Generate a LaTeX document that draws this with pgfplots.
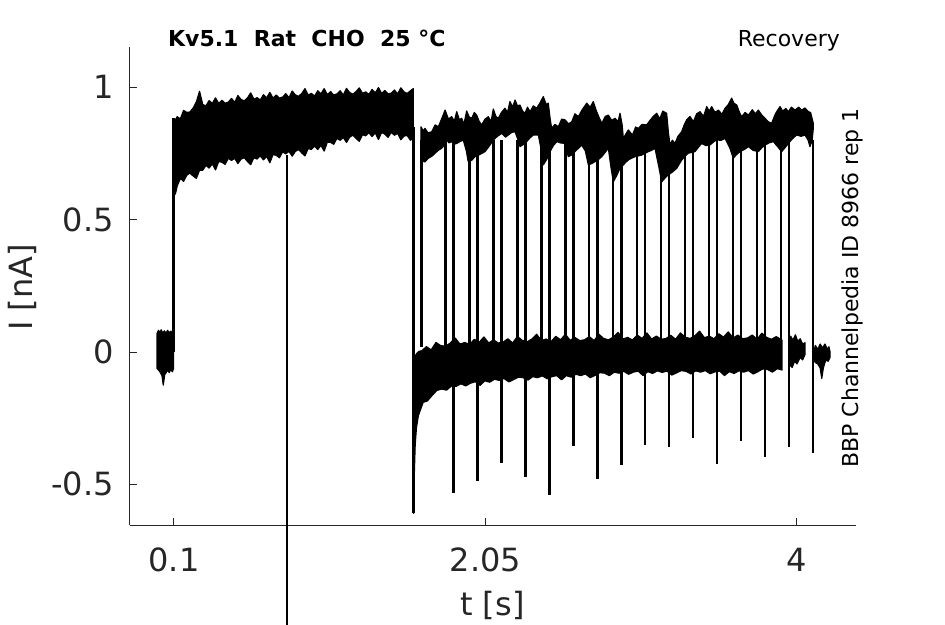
\documentclass[border=0pt]{standalone}
\usepackage{fontspec}
\setmainfont{DejaVu Sans}
\usepackage{pgfplots}
\pgfplotsset{compat=1.18}
\definecolor{axgray}{RGB}{38,38,38}
\begin{document}
\begin{tikzpicture}
\begin{axis}[
  name=ax, scale only axis, width=726pt, height=478pt,
  xmin=-0.1754, xmax=4.3694, ymin=-0.6536, ymax=1.1524,
  axis x line*=bottom, axis y line*=left,
  axis line style={axgray, line width=1pt},
  tick align=inside, major tick length=7.5pt,
  tick style={axgray, line width=1pt},
  xtick={0.1,2.05,4}, xticklabels={0.1,2.05,4},
  ytick={-0.5,0,0.5,1}, yticklabels={-0.5,0,0.5,1},
  ticklabel style={font=\fontsize{32}{38}\selectfont, text=axgray},
  xticklabel style={anchor=base, inner sep=0pt, yshift=-46.7pt},
  yticklabel style={anchor=east, inner sep=0pt, xshift=-16pt},
  clip=false,
]
% pre-pulse baseline
\addplot[black, fill=black, line width=1.2pt, line join=round] coordinates {
(-0.006,0.070) (0.003,0.082) (0.012,0.072) (0.020,0.084) (0.030,0.071) (0.040,0.080) (0.050,0.070) (0.060,0.082) (0.070,0.072) (0.080,0.079) (0.090,0.070) (0.097,0.076)
(0.097,-0.062) (0.090,-0.075) (0.080,-0.066) (0.070,-0.078) (0.060,-0.068) (0.050,-0.079) (0.042,-0.085) (0.033,-0.125) (0.025,-0.090) (0.015,-0.078) (0.006,-0.070) (-0.006,-0.062)
} -- cycle;
% step up at 0.1
\addplot[black, line width=3pt] coordinates {(0.1,0.0) (0.1,0.885)};
% P1 band
\addplot[black, fill=black, line width=1.2pt, line join=round] coordinates {
(0.100,0.869) (0.120,0.889) (0.140,0.881) (0.160,0.913) (0.180,0.905) (0.200,0.907) (0.220,0.922) (0.240,0.945) (0.260,0.985) (0.280,0.935)
(0.300,0.930) (0.320,0.950) (0.340,0.939) (0.360,0.960) (0.380,0.939) (0.400,0.951) (0.420,0.940) (0.440,0.944) (0.460,0.958) (0.480,0.943)
(0.500,0.969) (0.520,0.954) (0.540,0.949) (0.560,0.960) (0.580,0.979) (0.600,0.955) (0.620,0.961) (0.640,0.952) (0.660,0.972) (0.680,0.960)
(0.700,0.981) (0.720,0.959) (0.740,0.971) (0.760,0.959) (0.780,0.963) (0.800,0.976) (0.820,0.961) (0.840,0.986) (0.860,0.971) (0.880,0.966)
(0.900,0.977) (0.920,0.995) (0.940,0.971) (0.960,0.977) (0.980,0.967) (1.000,0.987) (1.020,0.975) (1.040,0.995) (1.060,0.972) (1.080,0.984)
(1.100,0.971) (1.120,0.975) (1.140,0.987) (1.160,0.971) (1.180,0.996) (1.200,0.980) (1.220,0.974) (1.240,0.984) (1.260,0.998) (1.280,0.977)
(1.300,0.983) (1.320,0.973) (1.340,0.992) (1.360,0.979) (1.380,0.999) (1.400,0.977) (1.420,0.988) (1.440,0.975) (1.460,0.978) (1.480,0.990)
(1.500,0.975) (1.520,0.998) (1.540,0.983) (1.560,0.977) (1.580,0.987) (1.598,0.995)
(1.598,0.810) (1.580,0.800) (1.560,0.818) (1.540,0.816) (1.520,0.802) (1.500,0.826) (1.480,0.819) (1.460,0.830) (1.440,0.811) (1.420,0.823)
(1.400,0.830) (1.380,0.803) (1.360,0.828) (1.340,0.814) (1.320,0.829) (1.300,0.817) (1.280,0.821) (1.260,0.796) (1.240,0.807) (1.220,0.819)
(1.200,0.812) (1.180,0.792) (1.160,0.810) (1.140,0.800) (1.120,0.807) (1.100,0.785) (1.080,0.792) (1.060,0.793) (1.040,0.759) (1.020,0.781)
(1.000,0.765) (0.980,0.778) (0.960,0.765) (0.940,0.769) (0.920,0.741) (0.900,0.752) (0.880,0.765) (0.860,0.758) (0.840,0.740) (0.820,0.758)
(0.800,0.749) (0.780,0.756) (0.760,0.734) (0.740,0.743) (0.720,0.746) (0.700,0.715) (0.680,0.739) (0.660,0.726) (0.640,0.741) (0.620,0.729)
(0.600,0.734) (0.580,0.708) (0.560,0.720) (0.540,0.734) (0.520,0.729) (0.500,0.712) (0.480,0.732) (0.460,0.724) (0.440,0.732) (0.420,0.709)
(0.400,0.717) (0.380,0.720) (0.360,0.688) (0.340,0.711) (0.320,0.695) (0.300,0.705) (0.280,0.687) (0.260,0.687) (0.240,0.656) (0.220,0.665)
(0.200,0.676) (0.180,0.668) (0.160,0.645) (0.140,0.656) (0.120,0.627) (0.110,0.600) (0.100,0.590)
} -- cycle;
% artefact line
\addplot[black, line width=2pt] coordinates {(0.807,0.744) (0.807,-1.06)};
% drop at 1.6
\addplot[black, line width=3.2pt] coordinates {(1.6,0.85) (1.6,-0.61)};
% lower band (holding)
\addplot[black, fill=black, line width=1.2pt, line join=round] coordinates {
(1.598,-0.050) (1.603,-0.030) (1.610,-0.015) (1.620,-0.005) (1.635,0.003)
(1.65,0.004) (1.68,0.020) (1.71,0.008) (1.74,0.036) (1.77,0.024) (1.80,0.022) (1.83,0.034) (1.86,0.053) (1.89,0.030) (1.92,0.036)
(1.95,0.028) (1.98,0.048) (2.01,0.036) (2.04,0.057) (2.07,0.034) (2.10,0.046) (2.13,0.034) (2.16,0.037) (2.19,0.050) (2.22,0.034)
(2.25,0.059) (2.28,0.044) (2.31,0.038) (2.34,0.049) (2.37,0.067) (2.40,0.043) (2.43,0.049) (2.46,0.039) (2.49,0.059) (2.52,0.046)
(2.55,0.067) (2.58,0.044) (2.61,0.055) (2.64,0.043) (2.67,0.046) (2.70,0.058) (2.73,0.043) (2.76,0.067) (2.79,0.051) (2.82,0.046)
(2.85,0.056) (2.88,0.074) (2.91,0.049) (2.94,0.055) (2.97,0.045) (3.00,0.064) (3.03,0.051) (3.06,0.072) (3.09,0.049) (3.12,0.060)
(3.15,0.048) (3.18,0.051) (3.21,0.063) (3.24,0.048) (3.27,0.072) (3.30,0.056) (3.33,0.051) (3.36,0.061) (3.39,0.079) (3.42,0.054)
(3.45,0.060) (3.48,0.050) (3.51,0.069) (3.54,0.056) (3.57,0.076) (3.60,0.053) (3.63,0.064) (3.66,0.050) (3.69,0.053) (3.72,0.064)
(3.75,0.048) (3.78,0.071) (3.81,0.055) (3.84,0.048) (3.87,0.058) (3.906,0.045)
(3.906,-0.068) (3.876,-0.063) (3.846,-0.076) (3.816,-0.066) (3.786,-0.064) (3.756,-0.074) (3.726,-0.083) (3.696,-0.070) (3.666,-0.076) (3.636,-0.071)
(3.606,-0.081) (3.576,-0.074) (3.546,-0.089) (3.516,-0.072) (3.486,-0.075) (3.456,-0.082) (3.426,-0.070) (3.396,-0.076) (3.366,-0.071) (3.336,-0.083)
(3.306,-0.073) (3.276,-0.070) (3.246,-0.079) (3.216,-0.087) (3.186,-0.072) (3.156,-0.077) (3.126,-0.071) (3.096,-0.081) (3.066,-0.074) (3.036,-0.089)
(3.006,-0.072) (2.976,-0.076) (2.946,-0.084) (2.916,-0.073) (2.886,-0.080) (2.856,-0.076) (2.826,-0.089) (2.796,-0.080) (2.766,-0.078) (2.736,-0.088)
(2.706,-0.097) (2.676,-0.083) (2.646,-0.089) (2.616,-0.084) (2.586,-0.095) (2.556,-0.089) (2.526,-0.105) (2.496,-0.089) (2.466,-0.093) (2.436,-0.101)
(2.406,-0.090) (2.376,-0.097) (2.346,-0.093) (2.316,-0.106) (2.286,-0.097) (2.256,-0.095) (2.226,-0.104) (2.196,-0.113) (2.166,-0.100) (2.136,-0.107)
(2.106,-0.103) (2.076,-0.114) (2.046,-0.109) (2.016,-0.126) (1.986,-0.112) (1.956,-0.118) (1.926,-0.128) (1.896,-0.120) (1.866,-0.130) (1.836,-0.129)
(1.806,-0.144) (1.776,-0.140) (1.746,-0.145) (1.716,-0.164) (1.686,-0.185) (1.660,-0.190) (1.645,-0.215) (1.630,-0.240) (1.618,-0.285) (1.610,-0.350)
(1.605,-0.450) (1.600,-0.610)
} -- cycle;
% holding fragments at the end
\addplot[black, fill=black, line width=1.2pt, line join=round] coordinates {
(3.955,0.000) (3.960,0.060) (3.975,0.045) (3.990,0.065) (4.005,0.040) (4.020,0.050) (4.035,0.030) (4.050,0.035)
(4.050,-0.010) (4.035,-0.030) (4.020,-0.020) (4.000,-0.045) (3.985,-0.035) (3.970,-0.058) (3.955,-0.050)
} -- cycle;
\addplot[black, fill=black, line width=1.2pt, line join=round] coordinates {
(4.105,0.000) (4.115,0.025) (4.130,0.010) (4.145,0.030) (4.160,0.015) (4.175,0.030) (4.190,0.010) (4.200,0.020) (4.207,0.000)
(4.207,-0.020) (4.195,-0.035) (4.180,-0.030) (4.165,-0.060) (4.155,-0.100) (4.145,-0.060) (4.130,-0.045) (4.115,-0.040) (4.105,-0.030)
} -- cycle;
% P2 band
\addplot[black, fill=black, line width=1.2pt, line join=round] coordinates {
(1.646,0.851) (1.660,0.835) (1.671,0.845) (1.690,0.828) (1.713,0.832) (1.735,0.858) (1.755,0.851) (1.775,0.880) (1.797,0.914) (1.818,0.880)
(1.838,0.889) (1.855,0.872) (1.870,0.908) (1.886,0.878) (1.901,0.883) (1.915,0.860) (1.932,0.911) (1.948,0.888) (1.964,0.883) (1.980,0.905)
(1.995,0.895) (2.010,0.872) (2.026,0.858) (2.047,0.880) (2.068,0.889) (2.085,0.870) (2.099,0.918) (2.115,0.890) (2.130,0.883) (2.150,0.905)
(2.172,0.921) (2.188,0.905) (2.203,0.946) (2.220,0.925) (2.235,0.952) (2.250,0.930) (2.266,0.933) (2.282,0.910) (2.297,0.902) (2.313,0.925)
(2.329,0.908) (2.350,0.930) (2.370,0.921) (2.390,0.940) (2.412,0.965) (2.430,0.935) (2.443,0.940) (2.455,0.880) (2.464,0.845) (2.485,0.860)
(2.506,0.851) (2.527,0.880) (2.548,0.877) (2.570,0.862) (2.590,0.870) (2.610,0.900) (2.631,0.889) (2.655,0.915) (2.684,0.940) (2.705,0.925)
(2.725,0.946) (2.746,0.908) (2.762,0.885) (2.778,0.864) (2.800,0.890) (2.819,0.895) (2.840,0.875) (2.861,0.883) (2.880,0.870) (2.892,0.902)
(2.905,0.860) (2.913,0.807) (2.930,0.825) (2.944,0.839) (2.970,0.820) (2.990,0.850) (3.007,0.845) (3.030,0.860) (3.059,0.858) (3.080,0.875)
(3.100,0.890) (3.122,0.902) (3.140,0.880) (3.160,0.910) (3.184,0.902) (3.195,0.830) (3.205,0.782) (3.220,0.800) (3.236,0.788) (3.255,0.815)
(3.278,0.832) (3.295,0.860) (3.309,0.877) (3.330,0.890) (3.351,0.870) (3.372,0.900) (3.393,0.908) (3.415,0.890) (3.435,0.927) (3.450,0.910)
(3.466,0.927) (3.487,0.905) (3.508,0.914) (3.530,0.898) (3.550,0.921) (3.570,0.935) (3.591,0.959) (3.605,0.940) (3.623,0.933) (3.640,0.905)
(3.654,0.889) (3.675,0.905) (3.696,0.895) (3.720,0.915) (3.740,0.900) (3.758,0.914) (3.780,0.895) (3.800,0.883) (3.820,0.870) (3.841,0.864)
(3.865,0.900) (3.880,0.915) (3.894,0.927) (3.910,0.910) (3.930,0.920) (3.946,0.908) (3.965,0.925) (3.988,0.914) (4.010,0.925) (4.030,0.914)
(4.050,0.922) (4.071,0.908) (4.085,0.905) (4.102,0.864)
(4.102,0.845) (4.095,0.800) (4.081,0.776) (4.070,0.800) (4.050,0.820) (4.025,0.815) (3.998,0.820) (3.970,0.805) (3.946,0.788) (3.925,0.772)
(3.904,0.757) (3.880,0.775) (3.852,0.795) (3.825,0.790) (3.800,0.782) (3.780,0.772) (3.758,0.757) (3.725,0.762) (3.696,0.776) (3.670,0.765)
(3.643,0.757) (3.620,0.745) (3.601,0.732) (3.580,0.770) (3.550,0.807) (3.525,0.800) (3.497,0.801) (3.480,0.795) (3.455,0.782) (3.430,0.780)
(3.403,0.788) (3.385,0.775) (3.361,0.757) (3.319,0.751) (3.300,0.740) (3.278,0.725) (3.247,0.694) (3.220,0.680) (3.194,0.669) (3.175,0.658)
(3.153,0.643) (3.135,0.700) (3.111,0.770) (3.090,0.762) (3.069,0.757) (3.028,0.744) (2.986,0.738) (2.950,0.728) (2.930,0.718) (2.910,0.705)
(2.892,0.694) (2.870,0.665) (2.850,0.643) (2.835,0.700) (2.819,0.770) (2.800,0.755) (2.778,0.738) (2.758,0.728) (2.735,0.719) (2.715,0.712)
(2.694,0.707) (2.675,0.760) (2.652,0.782) (2.632,0.770) (2.610,0.757) (2.590,0.745) (2.568,0.738) (2.560,0.760) (2.548,0.788) (2.520,0.790)
(2.496,0.795) (2.475,0.780) (2.454,0.757) (2.435,0.730) (2.412,0.707) (2.400,0.760) (2.381,0.820) (2.350,0.820) (2.330,0.810) (2.308,0.795)
(2.290,0.785) (2.266,0.776) (2.255,0.800) (2.235,0.832) (2.215,0.830) (2.193,0.820) (2.175,0.812) (2.152,0.826) (2.125,0.815) (2.099,0.801)
(2.070,0.775) (2.047,0.757) (2.010,0.745) (1.984,0.738) (1.965,0.725) (1.942,0.719) (1.930,0.760) (1.911,0.801) (1.890,0.795) (1.870,0.788)
(1.855,0.785) (1.838,0.795) (1.822,0.790) (1.807,0.801) (1.790,0.780) (1.776,0.770) (1.755,0.762) (1.734,0.751) (1.715,0.740) (1.692,0.732)
(1.670,0.718) (1.646,0.725)
} -- cycle;
% P2 onsets
\addplot[black, line width=2.3pt, unbounded coords=jump] coordinates {
(1.65,0.02) (1.65,0.80) (1.65,nan)
(1.80,0.02) (1.80,0.80) (1.80,nan)
(1.95,0.02) (1.95,0.80) (1.95,nan)
(2.10,0.02) (2.10,0.80) (2.10,nan)
(2.25,0.02) (2.25,0.80) (2.25,nan)
(2.40,0.02) (2.40,0.80) (2.40,nan)
(2.55,0.02) (2.55,0.80) (2.55,nan)
(2.70,0.02) (2.70,0.80) (2.70,nan)
(2.85,0.02) (2.85,0.80) (2.85,nan)
(3.00,0.02) (3.00,0.80) (3.00,nan)
(3.15,0.02) (3.15,0.80) (3.15,nan)
(3.30,0.02) (3.30,0.80) (3.30,nan)
(3.45,0.02) (3.45,0.80) (3.45,nan)
(3.60,0.02) (3.60,0.80) (3.60,nan)
(3.75,0.02) (3.75,0.80) (3.75,nan)
(3.90,0.02) (3.90,0.80)
};
% P2 ends with tail spikes
\addplot[black, line width=2.5pt, unbounded coords=jump] coordinates {
(1.85,0.80) (1.85,-0.533) (1.85,nan)
(2.00,0.80) (2.00,-0.488) (2.00,nan)
(2.15,0.80) (2.15,-0.420) (2.15,nan)
(2.30,0.80) (2.30,-0.472) (2.30,nan)
(2.45,0.80) (2.45,-0.540) (2.45,nan)
(2.60,0.80) (2.60,-0.355) (2.60,nan)
(2.75,0.80) (2.75,-0.480) (2.75,nan)
(2.90,0.80) (2.90,-0.427) (2.90,nan)
(3.05,0.80) (3.05,-0.350) (3.05,nan)
(3.20,0.80) (3.20,-0.360) (3.20,nan)
(3.35,0.80) (3.35,-0.325) (3.35,nan)
(3.50,0.80) (3.50,-0.424) (3.50,nan)
(3.65,0.80) (3.65,-0.337) (3.65,nan)
(3.80,0.80) (3.80,-0.397) (3.80,nan)
(3.95,0.80) (3.95,-0.360) (3.95,nan)
(4.10,0.80) (4.10,-0.380)
};
% texts
\node[anchor=base west, inner sep=0pt, font=\fontsize{22}{26}\selectfont\bfseries] at (rel axis cs:0.0523,1.0006) {Kv5.1\ \ Rat\ \ CHO\ \ 25 °C};
\node[anchor=base east, inner sep=0pt, font=\fontsize{22}{26}\selectfont] at (rel axis cs:0.978,1.0006) {Recovery};
\node[anchor=base, rotate=90, inner sep=0pt, font=\fontsize{22}{26}\selectfont] at (rel axis cs:1.0037,0.4958) {BBP Channelpedia ID 8966 rep 1};
\node[anchor=base, inner sep=0pt, font=\fontsize{32}{38}\selectfont, text=axgray] at (rel axis cs:0.4993,-0.19) {t [s]};
\node[anchor=base, rotate=90, inner sep=0pt, font=\fontsize{32}{38}\selectfont, text=axgray] at (rel axis cs:-0.134,0.4969) {I [nA]};
\end{axis}
\pgfresetboundingbox
\path ([shift={(-130pt,-99pt)}]ax.south west) rectangle ([shift={(89pt,47pt)}]ax.north east);
\end{tikzpicture}
\end{document}
